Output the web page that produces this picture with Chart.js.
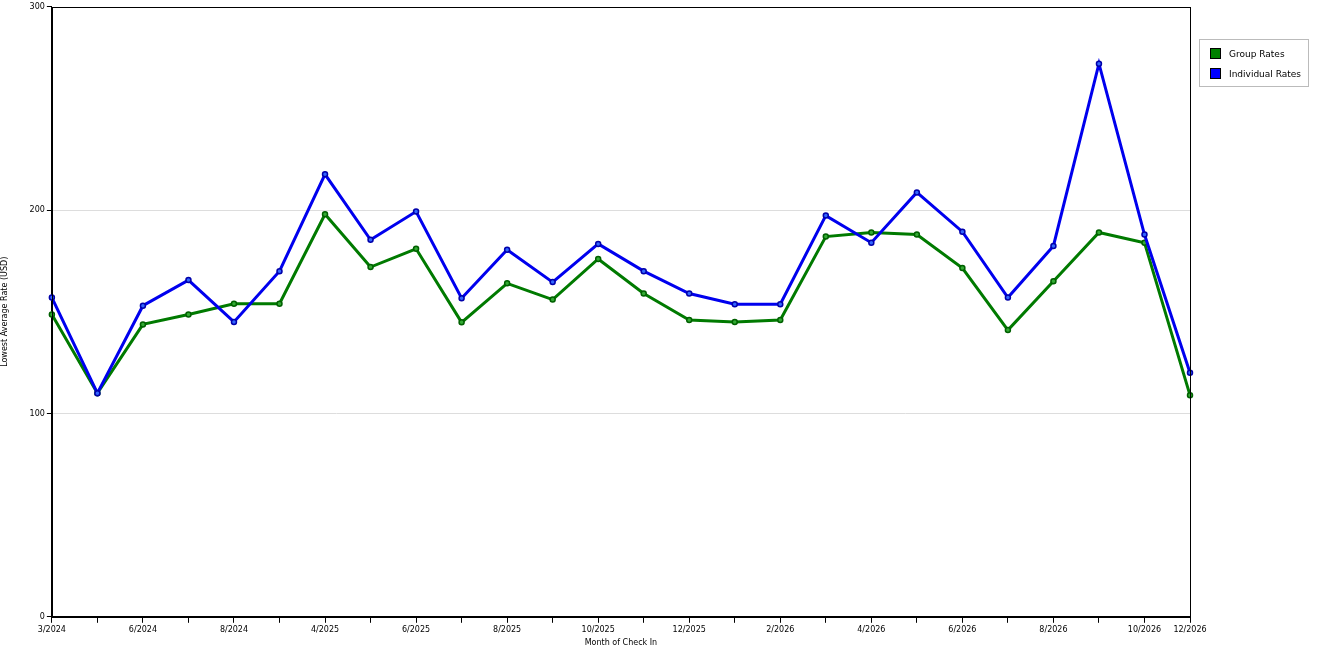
<!DOCTYPE html>
<html><head><meta charset="utf-8">
<script src="https://cdn.jsdelivr.net/npm/chart.js@4"></script>
<style>
html,body{margin:0;padding:0;background:#fff;}
#wrap{position:relative;width:1320px;height:660px;}
#legend{position:absolute;left:1199px;top:39px;width:110px;height:48px;border:1px solid #bbb;font:9px "DejaVu Sans",sans-serif;color:#000;box-sizing:border-box;}
.li{position:absolute;left:10px;display:flex;align-items:center;}
.sw{width:11px;height:11px;margin-right:8px;border:1px solid #000;box-sizing:border-box;}
</style></head>
<body><div id="wrap"><canvas id="c" width="1320" height="660"></canvas>
<div id="legend"><div class="li" style="top:8px"><div class="sw" style="background:#008000"></div>Group Rates</div>
<div class="li" style="top:28px"><div class="sw" style="background:#0000ff"></div>Individual Rates</div></div></div>
<script>
const categories = ['3/2024','','6/2024','','8/2024','','4/2025','','6/2025','','8/2025','','10/2025','','12/2025','','2/2026','','4/2026','','6/2026','','8/2026','','10/2026','12/2026'];
const groupRates = [148.7,110,143.8,148.7,154,154,198,172,181,144.8,164,156,176,159,146,145,146,187,189,188,171.5,141,165,189,184,109];
const individualRates = [157,110,153,165.6,145,170,217.6,185.4,199.3,156.7,180.5,164.6,183.4,170,159,153.7,153.7,197.3,184,208.7,189.4,157,182.4,272,188,120];
const yTicks = [0,100,200,300];
const font = {family:'DejaVu Sans', size:8};
const frame = {id:'frame', afterDraw(ch){const a=ch.chartArea,c=ch.ctx;c.save();c.strokeStyle='#000';c.lineWidth=1;c.strokeRect(Math.round(a.left)+0.5,Math.round(a.top)+0.5,Math.round(a.right-a.left),Math.round(a.bottom-a.top));c.restore();}};
new Chart(document.getElementById('c'),{
 type:'line',
 data:{labels:categories,datasets:[
  {label:'Individual Rates',data:individualRates,borderColor:'#0000ee',backgroundColor:'#3366ff',pointBorderColor:'#0000aa',borderWidth:3,pointRadius:2.5,pointBorderWidth:1.5,tension:0},
  {label:'Group Rates',data:groupRates,borderColor:'#007a00',backgroundColor:'#33aa33',pointBorderColor:'#006000',borderWidth:3,pointRadius:2.5,pointBorderWidth:1.5,tension:0}
 ]},
 options:{responsive:false,animation:false,
  layout:{padding:{left:0,right:130,top:1,bottom:8}},
  plugins:{legend:{display:false},tooltip:{enabled:false}},
  scales:{
   x:{offset:false,grid:{display:true,drawOnChartArea:false,color:'#000',tickLength:6},border:{color:'#000'},
      ticks:{color:'#000',font,maxRotation:0,autoSkip:false,padding:2},
      title:{display:true,text:'Month of Check In',color:'#000',font,padding:{top:2}}},
   y:{min:0,max:300,grid:{color:(ctx)=>(ctx.tick&&(ctx.tick.value===100||ctx.tick.value===200))?'#ddd':'transparent',tickColor:'#000',tickLength:5,drawTicks:true},
      border:{color:'#000'},
      afterBuildTicks:(s)=>{s.ticks=yTicks.map(v=>({value:v}));},
      ticks:{color:'#000',font,padding:2},
      title:{display:true,text:'Lowest Average Rate (USD)',color:'#000',font,padding:{bottom:18,top:0}}}
  }},
 plugins:[frame]
});
</script></body></html>
